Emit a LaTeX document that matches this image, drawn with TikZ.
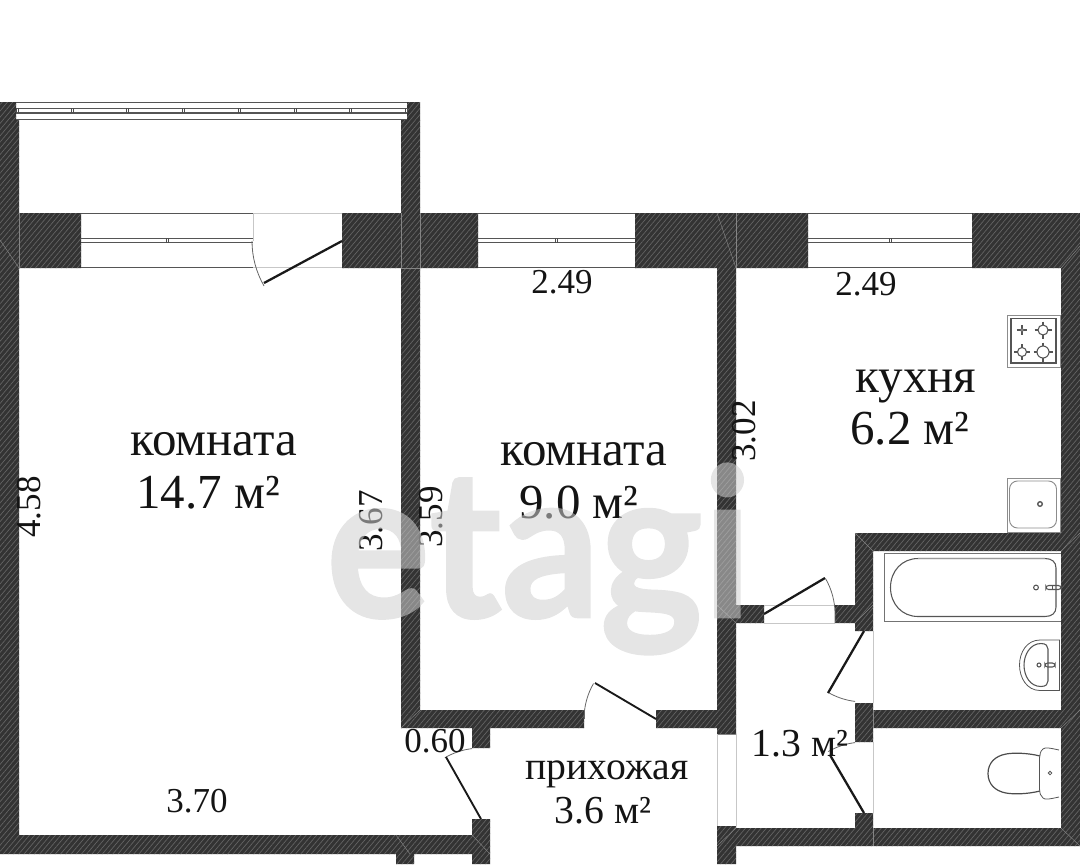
\documentclass[tikz,border=0pt]{standalone}
\usepackage{fontspec}
\setmainfont{Liberation Serif}
\newfontfamily\wmfont[BoldFont={Lato Bold},BoldFeatures={FakeBold=1.3}]{Lato}
\usetikzlibrary{patterns.meta}
\definecolor{walldark}{HTML}{333333}
\definecolor{hatchc}{HTML}{656565}
\definecolor{wmc}{HTML}{CFCFCF}
\definecolor{fixt}{HTML}{555555}
\newcommand{\wallshapes}{
 (0,102) rectangle (16,120) (0,120) rectangle (19,854)
 (19,835) rectangle (490,854)
 (407,102) rectangle (420,120) (401,120) rectangle (420,728)
 (19,213) rectangle (81,268) (342,213) rectangle (478,268)
 (635,213) rectangle (808,268) (972,213) rectangle (1080,268)
 (1061,268) rectangle (1080,846)
 (717,268) rectangle (736,734)
 (736,605) rectangle (764,623) (835,605) rectangle (855,623)
 (855,533) rectangle (1080,551) (855,551) rectangle (873,631)
 (855,703) rectangle (873,742) (873,710) rectangle (1061,728)
 (855,813) rectangle (873,828)
 (717,828) rectangle (1080,846) (717,826) rectangle (736,864)
 (420,710) rectangle (584,728) (656,710) rectangle (717,728)
 (472,728) rectangle (490,748) (472,819) rectangle (490,864)
 (396,854) rectangle (414,864)
}
\tikzset{
 wallfill/.style={fill=walldark},
 wallhatch/.style={pattern={Lines[angle=50,distance=3pt,line width=.5pt]},pattern color=hatchc},
 seam/.style={draw=hatchc!80!white,line width=.35pt},
 glass/.style={draw=fixt,line width=.8pt},
 gapline/.style={draw=black!22,line width=.5pt},
 leaf/.style={draw=black!90,line width=1.7pt},
 swing/.style={draw=black!60,line width=.6pt},
 fix/.style={draw=fixt,line width=.6pt},
 tick/.style={draw=black!70,line width=.4pt},
 room/.style={inner sep=0pt,anchor=base,text=black!92,font=\fontsize{36.7}{42}\selectfont},
 sub/.style={inner sep=0pt,anchor=base,text=black!92,font=\fontsize{29.75}{34}\selectfont},
 dim/.style={inner sep=0pt,anchor=base,text=black!92,font=\fontsize{26.25}{30}\selectfont},
}
\begin{document}
\begin{tikzpicture}[x=0.75pt,y=-0.75pt]
\useasboundingbox (0,0) rectangle (1080,864);
% walls
\path[wallfill] \wallshapes;
\path[wallhatch] \wallshapes;
% seams at the corners and joints
\foreach \a/\b/\c/\d in {19/213/19/268, 401/213/401/268, 420/213/420/268, 0/240/19/268, 736/213/736/268, 717/213/736/268,
 1061/268/1080/246, 855/533/873/551, 1061/551/1080/533, 873/710/873/728, 1061/728/1080/710, 717/846/736/828, 1061/828/1080/846, 873/828/873/846, 401/268/420/268, 401/728/420/710, 736/623/717/605, 855/623/873/605, 717/734/736/734, 472/835/490/854, 396/835/410/854}
  \draw[seam] (\a,\b) -- (\c,\d);
% balcony window
\draw[glass] (16,102.5) -- (407,102.5) (16,119.5) -- (407,119.5) (16,108.5) -- (407,108.5) (16,113) -- (407,113);
\foreach \x in {17,72,127,183,239,295,350,406}
  \draw[tick] (\x-1,108) -- (\x-1,113) (\x+1,108) -- (\x+1,113);
% windows in the main wall
\foreach \l/\r in {81/253,478/635,808/972}{
  \draw[glass] (\l,213.5) -- (\r,213.5) (\l,267.5) -- (\r,267.5) (\l,238.5) -- (\r,238.5) (\l,242.5) -- (\r,242.5);
  \draw[tick] ({(\l+\r)/2-1},238) -- ({(\l+\r)/2-1},243) ({(\l+\r)/2+1},238) -- ({(\l+\r)/2+1},243);
}
% door gap lines
\draw[gapline] (253,213.5) -- (342,213.5) (253,267.5) -- (342,267.5) (253,213) -- (253,241);
\draw[gapline] (717,734) -- (717,826) (736,734) -- (736,826);
\draw[gapline] (764,605.5) -- (835,605.5) (764,623) -- (835,623);
\draw[gapline] (873,631) -- (873,703) (873,742) -- (873,813);
% doors
\draw[swing] (252,241) arc[start angle=180,end angle=150,radius=90];
\draw[leaf] (342,241) -- (264,283);
\draw[swing] (584,719) arc[start angle=180,end angle=210,radius=71];
\draw[swing] (584,710) -- (584,719);
\draw[leaf,line width=1.4pt] (656,719) -- (595,683);
\draw[swing] (472,748.6) arc[start angle=-97,end angle=-120,radius=71.6];
\draw[leaf,line width=1.4pt] (481,819) -- (446,757);
\draw[swing] (835,623) -- (835,614) arc[start angle=0,end angle=-30,radius=71];
\draw[leaf] (764,614) -- (825,578);
\draw[swing] (855,701.4) arc[start angle=97,end angle=120,radius=71];
\draw[leaf] (864,631) -- (828,693);
\draw[swing] (855,742.6) arc[start angle=-97,end angle=-120,radius=71];
\draw[leaf] (864,813) -- (830,755);
% stove
\draw[draw=black!45,fill=white,line width=.7pt] (1007,315) rectangle (1060,367);
\draw[fix,line width=.8pt] (1011,318.5) rectangle (1056,363);
\foreach \cx/\cy/\rr in {1022/330/1.6,1043/330/5,1022/352/4.5,1043/352/6}{
  \draw[fix,line width=.8pt] (\cx,\cy) circle[radius=\rr];
  \draw[fix,line width=.8pt] (\cx-\rr-3.5,\cy) -- (\cx-\rr,\cy) (\cx+\rr,\cy) -- (\cx+\rr+3.5,\cy)
    (\cx,\cy-\rr-3.5) -- (\cx,\cy-\rr) (\cx,\cy+\rr) -- (\cx,\cy+\rr+3.5);
}
% kitchen sink
\draw[draw=black!45,line width=.7pt] (1007,478) rectangle (1060,532);
\draw[draw=black!45,line width=.7pt,rounded corners=6pt] (1009.5,481) rectangle (1056.5,528);
\draw[fix,line width=1pt] (1040,504) circle[radius=2.3];
% bath
\draw[draw=black!55,line width=.7pt] (1061,553) -- (884,553) -- (884,621.5) -- (1061,621.5);
\draw[fix,line width=.8pt] (918,558.5) -- (1045,558.5) .. controls (1052,558.5) and (1056,562) .. (1056,568) -- (1056,607) .. controls (1056,613) and (1052,616.5) .. (1045,616.5) -- (918,616.5) .. controls (902,616.5) and (890.5,604) .. (890.5,587.5) .. controls (890.5,571) and (902,558.5) .. (918,558.5) -- cycle;
\draw[draw=black!40,line width=1.1pt] (918,558.5) -- (1045,558.5);
\draw[fix,line width=.8pt] (1036,587.5) circle[radius=2.4];
\draw[fix,line width=.8pt,rounded corners=2pt] (1046,585.5) rectangle (1061,589.5);
\draw[fix,line width=.6pt] (1052,585.5) -- (1052,589.5);
% basin
\draw[fix] (1059.5,640) -- (1040,640) .. controls (1027,640) and (1019.5,652) .. (1019.5,665) .. controls (1019.5,678) and (1027,690.5) .. (1040,690.5) -- (1059.5,690.5) -- cycle;
\draw[fix,line width=.8pt] (1041,643.5) .. controls (1030,643.5) and (1024,655) .. (1024,665) .. controls (1024,676) and (1030,686.5) .. (1041,686.5) .. controls (1046,686.5) and (1048,684) .. (1048,681) -- (1048,649) .. controls (1048,646) and (1046,643.5) .. (1041,643.5) -- cycle;
\draw[fix,line width=.8pt] (1039,665) circle[radius=2];
\draw[fix,line width=.8pt,rounded corners=2pt] (1045,663) rectangle (1055,667);
% toilet
\draw[draw=black!70,line width=.9pt] (1040,756) .. controls (1028,753) and (1014,752.5) .. (1006,754) .. controls (995,756) and (988,763) .. (988,773.5) .. controls (988,784) and (995,791) .. (1006,793) .. controls (1014,794.5) and (1028,794) .. (1040,791);
\draw[fix] (1059,750) .. controls (1050,748) and (1045,747) .. (1043,749) .. controls (1040,751) and (1040,755) .. (1039.5,758) -- (1039.5,789) .. controls (1040,793) and (1040,796) .. (1043,798) .. controls (1045,800) and (1050,799) .. (1059,797);
\draw[fix] (1050,773) circle[radius=1.8];
% labels
\node[room] (r1a) at (214,455) {комната};
\node[room] (r1b) at (208,508) {14.7 м²};
\node[room] (r2a) at (584,465) {комната};
\node[room] (r2b) at (579,518) {9.0 м²};
\node[room] (ka) at (916,392) {кухня};
\node[room] (kb) at (910,444) {6.2 м²};
\node[sub] (ha) at (607,779) {прихожая};
\node[sub] (hb) at (603,823) {3.6 м²};
\node[sub] (cb) at (800,756) {1.3 м²};
\node[dim] (d1) at (562,293) {2.49};
\node[dim] (d2) at (866,295) {2.49};
\node[dim] (d3) at (197,812) {3.70};
\node[dim] (d4) at (435,752) {0.60};
\node[dim,rotate=90] (d5) at (40,507) {4.58};
\node[dim,rotate=90] (d6) at (382,521) {3.67};
\node[dim,rotate=90] (d7) at (442,517) {3.59};
\node[dim,rotate=90] (d8) at (755,431) {3.02};
% watermark
\begin{scope}[transparency group,opacity=.55]
\node[inner sep=0pt,anchor=base west,text=wmc] (wm) at (326,617)
  {\scalebox{0.94}[1]{\wmfont\bfseries\fontsize{155}{155}\selectfont etagi}};
\end{scope}
\end{tikzpicture}
\end{document}
